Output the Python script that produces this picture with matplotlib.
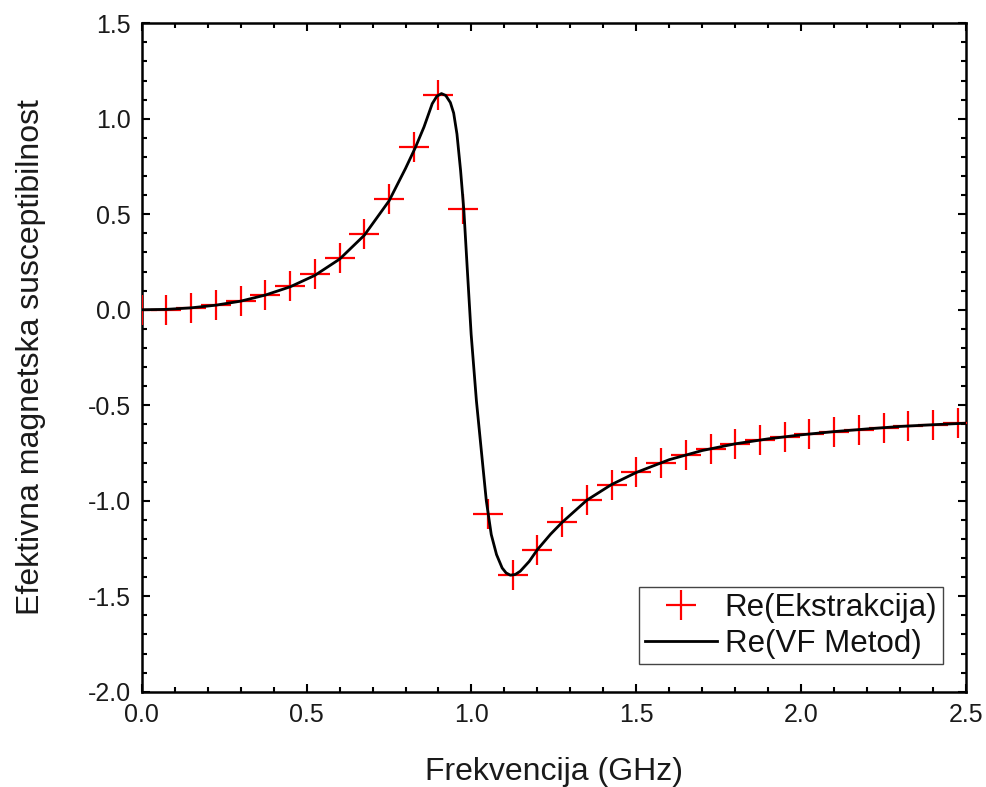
import matplotlib
matplotlib.use("Agg")
import matplotlib.pyplot as plt
from matplotlib.ticker import MultipleLocator, FormatStrFormatter

plt.rcParams['font.family'] = ['Liberation Sans', 'DejaVu Sans']

# Extraction (markers)
ext_x = [0.000, 0.075, 0.150, 0.225, 0.300, 0.375, 0.450, 0.525, 0.600, 0.675,
         0.750, 0.825, 0.900, 0.975, 1.050, 1.125, 1.200, 1.275, 1.350, 1.425,
         1.500, 1.575, 1.650, 1.725, 1.800, 1.875, 1.950, 2.025, 2.100, 2.175,
         2.250, 2.325, 2.400, 2.475]
ext_y = [0.000, 0.000, 0.009, 0.025, 0.047, 0.079, 0.124, 0.187, 0.273, 0.397,
         0.580, 0.851, 1.125, 0.528, -1.069, -1.390, -1.256, -1.113, -0.997, -0.916,
         -0.850, -0.800, -0.762, -0.729, -0.703, -0.682, -0.665, -0.651, -0.638, -0.628,
         -0.617, -0.609, -0.602, -0.595]

# VF method (line)
vf_x = [0.000, 0.075, 0.150, 0.225, 0.300, 0.375, 0.450, 0.525, 0.600, 0.675,
        0.750, 0.800, 0.830, 0.856, 0.881, 0.895, 0.909, 0.922, 0.936, 0.946,
        0.956, 0.967, 0.977, 0.987, 0.999, 1.015, 1.035, 1.045, 1.060, 1.076,
        1.093, 1.105, 1.118, 1.133, 1.148, 1.175, 1.200, 1.240, 1.275, 1.350,
        1.425, 1.500, 1.600, 1.700, 1.800, 1.900, 2.000, 2.100, 2.200, 2.300,
        2.400, 2.500]
vf_y = [0.000, 0.002, 0.010, 0.024, 0.045, 0.077, 0.120, 0.180, 0.265, 0.390,
        0.570, 0.740, 0.850, 0.957, 1.079, 1.118, 1.132, 1.122, 1.085, 1.030,
        0.920, 0.729, 0.519, 0.222, -0.128, -0.477, -0.827, -1.000, -1.177, -1.282,
        -1.352, -1.378, -1.390, -1.386, -1.369, -1.318, -1.256, -1.175, -1.113, -0.997,
        -0.915, -0.852, -0.785, -0.737, -0.702, -0.676, -0.655, -0.638, -0.624, -0.611,
        -0.602, -0.594]

fig = plt.figure(figsize=(9.87, 7.87), dpi=100)
ax = fig.add_axes([0.1436, 0.1211, 0.8352, 0.8493])

ax.plot(ext_x, ext_y, linestyle='none', marker='+', color='#ff0000',
        markersize=21, markeredgewidth=1.6, label='Re(Ekstrakcija)',
        zorder=2.6, clip_on=True)
ax.plot(vf_x, vf_y, color='black', linewidth=2.0, label='Re(VF Metod)', zorder=3)

ax.set_xlim(0, 2.5)
ax.set_ylim(-2.0, 1.5)
ax.xaxis.set_major_locator(MultipleLocator(0.5))
ax.xaxis.set_minor_locator(MultipleLocator(0.1))
ax.yaxis.set_major_locator(MultipleLocator(0.5))
ax.yaxis.set_minor_locator(MultipleLocator(0.1))
ax.xaxis.set_major_formatter(FormatStrFormatter('%.1f'))
ax.yaxis.set_major_formatter(FormatStrFormatter('%.1f'))

ax.tick_params(which='both', direction='in', top=True, right=True, width=1.5,
               labelsize=18, colors='black')
ax.tick_params(which='major', length=6, pad=8)
ax.tick_params(which='minor', length=3.5)
ax.tick_params(axis='both', labelcolor='#1a1a1a')
for s in ax.spines.values():
    s.set_linewidth(1.8)

ax.set_xlabel('Frekvencija (GHz)', fontsize=23, labelpad=22, color='#1a1a1a')
ax.set_ylabel('Efektivna magnetska susceptibilnost', fontsize=23, labelpad=30,
              color='#1a1a1a')

leg = ax.legend(loc='lower right', bbox_to_anchor=(0.972, 0.041), fontsize=22.5,
                frameon=True, fancybox=False, edgecolor='#444444', framealpha=1,
                handlelength=2.3, handletextpad=0.25, labelspacing=0.18,
                borderpad=0.18, borderaxespad=0.0)
leg.get_frame().set_linewidth(1.0)
for t in leg.get_texts():
    t.set_color('#111111')

fig.savefig('out.png', dpi=100)
